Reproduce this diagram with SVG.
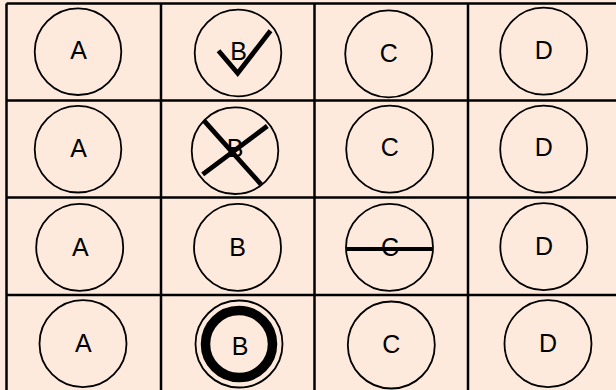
<svg xmlns="http://www.w3.org/2000/svg" width="616" height="390" viewBox="0 0 616 390">
<style>
.bg{fill:#FDEADC}
.grid{stroke:#000;stroke-width:2.5;fill:none}
.node circle{fill:none;stroke:#000;stroke-width:1.8}
.node text{font-family:"Liberation Sans",Arial,sans-serif;font-size:25px;fill:#000;text-anchor:middle}
.mark{stroke:#000;stroke-width:4.8;fill:none}
</style>
<rect class="bg" x="0" y="0" width="616" height="390"/>
<g id="grid" class="grid">
<line x1="6.5" y1="3.5" x2="616" y2="3.5"/>
<line x1="6.5" y1="100.5" x2="616" y2="100.5"/>
<line x1="6.5" y1="197.5" x2="616" y2="197.5"/>
<line x1="6.5" y1="295" x2="616" y2="295"/>
<line x1="6.5" y1="3.5" x2="6.5" y2="390"/>
<line x1="161" y1="3.5" x2="161" y2="390"/>
<line x1="314.5" y1="3.5" x2="314.5" y2="390"/>
<line x1="468" y1="3.5" x2="468" y2="390"/>
</g>
<g id="connectors"/>
<g id="r1a" class="node"><circle cx="78" cy="51.7" r="43.3"/><text x="78.5" y="58.8">A</text></g>
<g id="r1b" class="node"><circle cx="238" cy="53" r="43.3"/><text x="238.7" y="59.5">B</text><polyline class="mark" points="218.5,50.7 237.7,73.3 270.5,30.7"/></g>
<g id="r1c" class="node"><circle cx="388.7" cy="53.8" r="43.5"/><text x="388.7" y="61.5">C</text></g>
<g id="r1d" class="node"><circle cx="543.7" cy="51.2" r="43.5"/><text x="543.7" y="59">D</text></g>
<g id="r2a" class="node"><circle cx="78" cy="149.2" r="43.3"/><text x="78.5" y="156.5">A</text></g>
<g id="r2b" class="node"><circle cx="235" cy="150.7" r="43.3"/><text x="235" y="156.5">B</text><line class="mark" x1="204" y1="120.7" x2="261" y2="184.3"/><line class="mark" x1="267.3" y1="126" x2="202.7" y2="174.3"/></g>
<g id="r2c" class="node"><circle cx="389.7" cy="149.2" r="43.5"/><text x="389.7" y="156">C</text></g>
<g id="r2d" class="node"><circle cx="543.7" cy="149.2" r="43.5"/><text x="543.7" y="155.5">D</text></g>
<g id="r3a" class="node"><circle cx="79.7" cy="247.3" r="43.5"/><text x="80.3" y="256">A</text></g>
<g id="r3b" class="node"><circle cx="237.5" cy="247.3" r="43.5"/><text x="237.5" y="256">B</text></g>
<g id="r3c" class="node"><circle cx="389.5" cy="247.3" r="43.5"/><text x="390" y="256">C</text><line class="mark" x1="346.5" y1="249" x2="432" y2="249" style="stroke-width:4"/></g>
<g id="r3d" class="node"><circle cx="543.8" cy="246.7" r="43.5"/><text x="544" y="255">D</text></g>
<g id="r4a" class="node"><circle cx="83" cy="343.7" r="43.5"/><text x="83.3" y="352.3">A</text></g>
<g id="r4b" class="node"><circle cx="239" cy="344" r="43.5"/><circle cx="239" cy="344" r="33.5" style="stroke-width:9.5"/><text x="240" y="355">B</text></g>
<g id="r4c" class="node"><circle cx="391.3" cy="345" r="43.5"/><text x="391.3" y="353">C</text></g>
<g id="r4d" class="node"><circle cx="548" cy="343.7" r="43.5"/><text x="548" y="352">D</text></g>
</svg>
